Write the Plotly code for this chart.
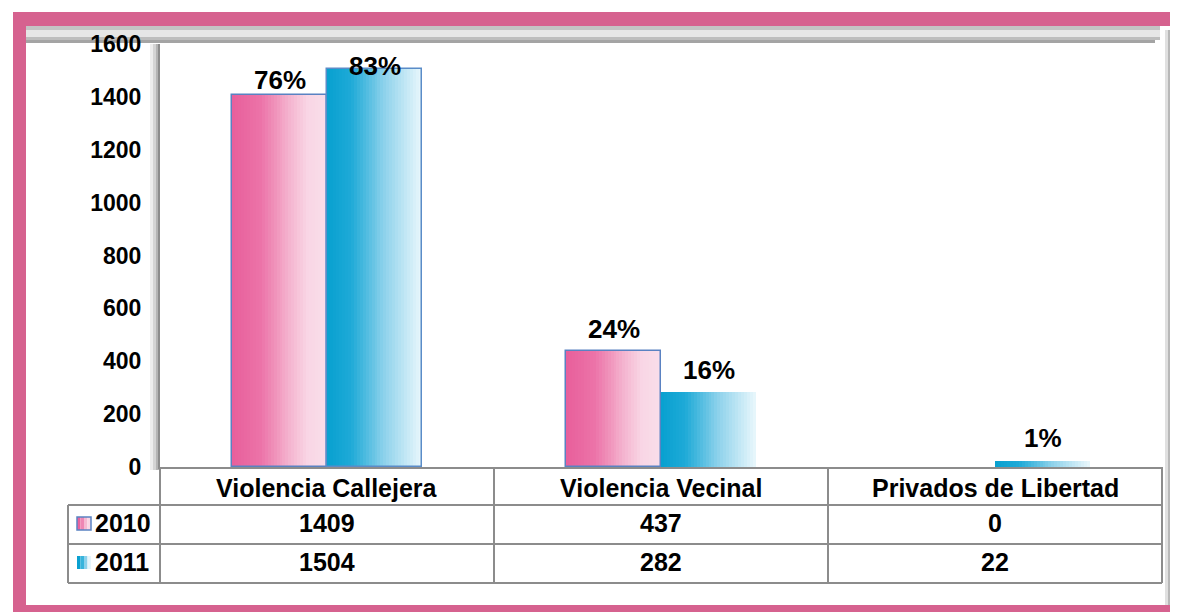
import plotly.graph_objects as go

# ---------------- data ----------------
categories = ["Violencia Callejera", "Violencia Vecinal", "Privados de Libertad"]
series_names = ["2010", "2011"]
values_2010 = [1409, 437, 0]
values_2011 = [1504, 282, 22]
pct_2010 = ["76%", "24%", ""]
pct_2011 = ["83%", "16%", "1%"]
y_ticks = [0, 200, 400, 600, 800, 1000, 1200, 1400, 1600]

# ---------------- geometry / style ----------------
W, H = 1178, 614       # reference size
OFF = 8                # page body margin of the html page
FW, FH = W - OFF, H - OFF
PX0, PX1 = 160, 1162   # plot area x (reference pixels)
PY0, PY1 = 44, 467     # plot area y top/bottom (reference pixels)
FONT = "Liberation Sans, Arial, sans-serif"
FRAME = "#D6628F"
GRID = "#8c8c8c"
CLEAR = "rgba(0,0,0,0)"

def px(x):
    return (x - PX0) / (PX1 - PX0)

def py(y):
    return (PY1 - y) / (PY1 - PY0)

def hex2rgb(h):
    h = h.lstrip("#")
    return tuple(int(h[i:i + 2], 16) for i in (0, 2, 4))

def grad(stops, t):
    for (t0, c0), (t1, c1) in zip(stops[:-1], stops[1:]):
        if t0 <= t <= t1:
            f = (t - t0) / (t1 - t0) if t1 > t0 else 0
            a, b = hex2rgb(c0), hex2rgb(c1)
            return "rgb(%d,%d,%d)" % tuple(round(a[i] + (b[i] - a[i]) * f) for i in range(3))
    return stops[-1][1]

pink_stops = [(0, "#E85F9B"), (0.3, "#EC73A8"), (0.6, "#F4B2CE"), (0.8, "#F9D6E5"), (1, "#F9DEEA")]
blue_stops = [(0, "#08A0D0"), (0.25, "#1EAAD7"), (0.6, "#8CD1EB"), (1, "#EAF7FC")]

cat_px = (PX1 - PX0) / len(categories)
bar_w = 95 / cat_px          # bar width in category units
N = 32                       # gradient slices per bar
idx = list(range(len(categories)))

fig = go.Figure()

def add_gradient_bars(vals, base_off, stops, name):
    for k in range(N):
        t = (k + 0.5) / N
        fig.add_trace(go.Bar(
            x=idx, y=vals, width=bar_w / N * 1.08, offset=base_off + k * bar_w / N,
            marker=dict(color=grad(stops, t), line=dict(width=0)),
            showlegend=False, hoverinfo="skip", name=name))

add_gradient_bars(values_2010, -bar_w, pink_stops, series_names[0])
add_gradient_bars(values_2011, 0, blue_stops, series_names[1])

# outlines (none on empty bars)
out_2010 = ["#5A82C2" if v > 0 else CLEAR for v in values_2010]
out_2011 = ["#5A8CC8", CLEAR, CLEAR]
fig.add_trace(go.Bar(x=idx, y=values_2010, width=bar_w, offset=-bar_w,
                     marker=dict(color=CLEAR, line=dict(color=out_2010, width=1.5)),
                     showlegend=False, hoverinfo="skip"))
fig.add_trace(go.Bar(x=idx, y=values_2011, width=bar_w, offset=0,
                     marker=dict(color=CLEAR, line=dict(color=out_2011, width=1.5)),
                     showlegend=False, hoverinfo="skip"))

annotations = []
pct_font = dict(family=FONT, size=26, color="black", weight="bold")
shift_2010 = [-2, 5, 0]
shift_2011 = [-14, 5, 6]
for i in idx:
    if pct_2010[i]:
        annotations.append(dict(x=i - bar_w / 2, y=values_2010[i], xref="x", yref="y", text=pct_2010[i],
                                showarrow=False, yanchor="bottom", yshift=shift_2010[i], font=pct_font))
    if pct_2011[i]:
        annotations.append(dict(x=i + bar_w / 2, y=values_2011[i], xref="x", yref="y", text=pct_2011[i],
                                showarrow=False, yanchor="bottom", yshift=shift_2011[i], font=pct_font))

# table text
tab_font = dict(family=FONT, size=25, color="black", weight="bold")
row_y = [488, 523, 562]
for i in idx:
    for r, txt in zip(row_y, [categories[i], str(values_2010[i]), str(values_2011[i])]):
        annotations.append(dict(x=i, y=py(r), xref="x", yref="paper", text=txt,
                                xanchor="center", yanchor="middle", showarrow=False, font=tab_font))
for r, nm in zip(row_y[1:], series_names):
    annotations.append(dict(x=px(93), y=py(r), xref="paper", yref="paper", text=nm, xanchor="left",
                            yanchor="middle", showarrow=False, font=tab_font))

shapes = []
def rect(x0, y0, x1, y1, color, layer="below", line=None):
    shapes.append(dict(type="rect", xref="paper", yref="paper", x0=px(x0), x1=px(x1), y0=py(y1), y1=py(y0),
                       fillcolor=color, line=line or dict(width=0), layer=layer))

def hline(x0, x1, y, color=GRID, w=2):
    shapes.append(dict(type="line", xref="paper", yref="paper", x0=px(x0), x1=px(x1), y0=py(y), y1=py(y),
                       line=dict(color=color, width=w), layer="above"))

def vline(x, y0, y1, color=GRID, w=2):
    shapes.append(dict(type="line", xref="paper", yref="paper", x0=px(x), x1=px(x), y0=py(y0), y1=py(y1),
                       line=dict(color=color, width=w), layer="above"))

# frame
rect(13, 12, 1190, 612, FRAME)
rect(26, 26, 1175, 605, "white")
# shadows
rect(26, 26, 1160, 30, "#c4c4c4")
rect(26, 30, 1160, 37, "#e6e6e6")
rect(26, 37, 1160, 40, "#bdbdbd")
rect(26, 40, 1155, 43, "#a4a4a4")
rect(1165, 30, 1168, 605, "#e0e0e0")
rect(1168, 30, 1172, 605, "#b8b8b8")
rect(1172, 26, 1175, 605, "#9a9a9a")
rect(150, 44, 153, 470, "#ededed")
rect(153, 44, 156, 470, "#d4d4d4")
rect(156, 44, 159, 470, "#b4b4b4")

# table grid
hline(68, 1162, 505)
hline(68, 1162, 544)
hline(68, 1162, 583)
vline(68, 505, 583)
vline(160, 467, 583)
for k in range(1, len(categories) + 1):
    vline(PX0 + k * cat_px, 467, 583)

# legend swatches
sw_pink = ["#E8629D", "#EE86B4", "#F5B8D2", "#F9D6E5"]
sw_blue = ["#0AA0D0", "#38B4DC", "#8CD1EB", "#E6F5FB"]
for j in range(4):
    rect(77 + j * 3.5, 517, 77 + (j + 1) * 3.5, 530, sw_pink[j], layer="above")
    rect(77 + j * 3.5, 556, 77 + (j + 1) * 3.5, 569, sw_blue[j], layer="above")
rect(77, 517, 91, 530, CLEAR, layer="above", line=dict(color="#5A82C2", width=1.5))

fig.update_layout(
    width=FW, height=FH,
    margin=dict(l=PX0 - OFF, r=FW - (PX1 - OFF), t=PY0 - OFF, b=FH - (PY1 - OFF), pad=0),
    paper_bgcolor="white", plot_bgcolor=CLEAR,
    barmode="overlay", bargap=0,
    showlegend=False,
    shapes=shapes, annotations=annotations,
    xaxis=dict(range=[-0.5, len(categories) - 0.5], showticklabels=False, showgrid=False, zeroline=False,
               showline=True, linecolor=GRID, linewidth=2, fixedrange=True, automargin=False),
    yaxis=dict(range=[0, 1600], tickvals=y_ticks, showgrid=False, zeroline=False,
               showline=True, linecolor=GRID, linewidth=2, ticks="", ticklabelstandoff=12,
               tickfont=dict(family=FONT, size=23, color="black", weight="bold"), fixedrange=True,
               automargin=False),
)

fig.write_html("out.html")
